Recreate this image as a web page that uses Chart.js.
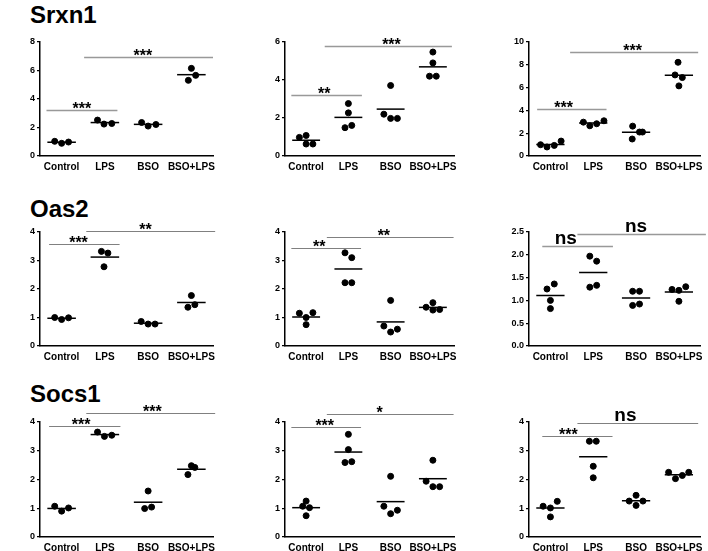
<!DOCTYPE html>
<html>
<head>
<meta charset="utf-8">
<script src="https://cdn.jsdelivr.net/npm/chart.js@4"></script>
<style>
  body { margin: 0; background: #fff; }
  #wrap { position: relative; width: 708px; height: 551px; overflow: hidden; }
  canvas { position: absolute; }
  .gene { position: absolute; left: 30px; font: bold 24px Arial, "Liberation Sans", sans-serif; line-height: 24px; color: #000; }
</style>
</head>
<body>
<div id="wrap">
  <div class="gene" style="top:3px">Srxn1</div>
  <div class="gene" style="top:197px">Oas2</div>
  <div class="gene" style="top:382px">Socs1</div>
</div>
<script>
const categories = ['Control', 'LPS', 'BSO', 'BSO+LPS'];

// values per group
const srxn1A = [[1.03, 0.89, 0.98], [2.52, 2.24, 2.28], [2.35, 2.10, 2.21], [6.15, 5.31, 5.66]];
const srxn1B = [[0.98, 1.08, 0.63, 0.63], [2.76, 2.27, 1.49, 1.61], [3.71, 2.20, 1.98, 1.98], [5.47, 4.90, 4.20, 4.20]];
const srxn1C = [[0.99, 0.79, 0.93, 1.31], [2.97, 2.65, 2.83, 3.09], [2.62, 1.49, 2.10, 2.10], [8.22, 7.11, 6.88, 6.15]];
const oas2A = [[1.00, 0.93, 0.99], [3.32, 3.26, 2.78], [0.86, 0.77, 0.77], [1.77, 1.36, 1.45]];
const oas2B = [[1.15, 1.17, 1.00, 0.75], [3.27, 3.10, 2.22, 2.22], [1.60, 0.70, 0.49, 0.59], [1.36, 1.52, 1.26, 1.28]];
const oas2C = [[1.25, 1.36, 1.00, 0.82], [1.97, 1.86, 1.29, 1.33], [1.20, 1.20, 0.89, 0.92], [1.24, 1.22, 1.30, 0.98]];
const socs1A = [[1.07, 0.90, 1.01], [3.65, 3.50, 3.54], [1.60, 0.99, 1.04], [2.17, 2.48, 2.42]];
const socs1B = [[1.25, 1.07, 1.02, 0.74], [3.57, 3.04, 2.59, 2.62], [2.11, 1.07, 0.81, 0.93], [2.67, 1.94, 1.75, 1.75]];
const socs1C = [[1.07, 1.01, 1.24, 0.70], [3.33, 3.33, 2.46, 2.06], [1.45, 1.25, 1.25, 1.10], [2.25, 2.03, 2.14, 2.25]];

// horizontal scatter of the dots inside each group
const jit3 = [[-0.16, 0, 0.16], [-0.17, -0.02, 0.16], [-0.15, 0, 0.18], [0, -0.07, 0.1]];
const jit3b = [[-0.16, 0, 0.16], [-0.08, 0.07, -0.02], [-0.16, 0, 0.16], [0, -0.08, 0.08]];
const jit3c = [[-0.16, 0, 0.16], [-0.17, -0.01, 0.16], [0, -0.08, 0.08], [-0.08, 0, 0.08]];
const jit4 = [[-0.16, 0, 0, 0.16], [0, 0, -0.08, 0.08], [0, -0.16, 0, 0.16], [0, 0, -0.08, 0.08]];
const jit4c = [[-0.23, -0.08, 0.09, 0.25], [-0.23, -0.08, 0.08, 0.25], [-0.08, -0.09, 0.08, 0.15], [-0.02, -0.09, 0.08, 0]];
const jit4o = [[-0.16, 0.16, 0, 0], [-0.08, 0.08, -0.08, 0.08], [0, -0.16, 0, 0.16], [-0.16, 0, 0, 0.16]];
const jit4p = [[-0.08, 0.09, 0, 0], [-0.08, 0.08, -0.08, 0.08], [-0.08, 0.08, -0.08, 0.08], [-0.16, 0, 0.16, 0]];
const jit4s = [[0, -0.08, 0.08, 0], [0, 0, -0.08, 0.08], [0, -0.16, 0, 0.16], [0, -0.16, 0, 0.16]];
const jit4t = [[-0.17, 0, 0.16, 0], [-0.09, 0.07, 0, 0], [0, -0.16, 0.16, 0], [-0.24, -0.08, 0.08, 0.23]];

// y axis ranges
const yMax = [8, 6, 10, 4, 4, 2.5, 4, 4, 4];
const yStep = [2, 2, 2, 1, 1, 0.5, 1, 1, 1];

// significance brackets: [x1, x2, y, label, labelX]
const sigSrxn1A = [[0.65, 2.29, 3.26, '***', 1.47], [1.52, 4.5, 6.95, '***', 2.88]];
const sigSrxn1B = [[0.65, 2.32, 3.23, '**', 1.43], [1.44, 4.45, 5.79, '***', 3.02]];
const sigSrxn1C = [[0.69, 2.31, 4.14, '***', 1.31], [1.46, 4.45, 9.10, '***', 2.92]];
const sigOas2A = [[0.71, 2.34, 3.59, '***', 1.39], [1.57, 4.55, 4.02, '**', 2.94]];
const sigOas2B = [[0.65, 2.30, 3.43, '**', 1.31], [1.49, 4.49, 3.84, '**', 2.84]];
const sigOas2C = [[0.81, 2.46, 2.19, 'ns', 1.36], [1.63, 4.63, 2.46, 'ns', 3.0]];
const sigSocs1A = [[0.71, 2.36, 3.85, '***', 1.45], [1.57, 4.55, 4.31, '***', 3.10]];
const sigSocs1B = [[0.65, 2.30, 3.84, '***', 1.44], [1.49, 4.49, 4.28, '*', 2.74]];
const sigSocs1C = [[0.81, 2.45, 3.52, '***', 1.42], [1.63, 4.45, 3.97, 'ns', 2.75]];

const panels = [
  { vals: srxn1A, jit: jit3, sig: sigSrxn1A },
  { vals: srxn1B, jit: jit4, sig: sigSrxn1B },
  { vals: srxn1C, jit: jit4c, sig: sigSrxn1C },
  { vals: oas2A, jit: jit3b, sig: sigOas2A },
  { vals: oas2B, jit: jit4o, sig: sigOas2B },
  { vals: oas2C, jit: jit4p, sig: sigOas2C },
  { vals: socs1A, jit: jit3c, sig: sigSocs1A },
  { vals: socs1B, jit: jit4s, sig: sigSocs1B },
  { vals: socs1C, jit: jit4t, sig: sigSocs1C }
];

// grid cells and plot boxes (relative to the cell)
const colX = [0, 236, 470];
const colW = [236, 234, 238];
const plotL = [40, 49, 59];
const plotR = [213, 218, 233];
const rowY = [0, 180, 360];
const rowH = [192, 192, 191];
const plotT = [42, 52, 62];
const plotB = [156, 166, 177];

const sigPlugin = {
  id: 'sig',
  afterDraw(chart, args, opts) {
    const c = chart.ctx, xs = chart.scales.x, ys = chart.scales.y;
    c.save();
    opts.brackets.forEach(b => {
      const y = Math.round(ys.getPixelForValue(b[2])) + 0.5;
      c.strokeStyle = opts.color;
      c.lineWidth = opts.width;
      c.beginPath();
      c.moveTo(xs.getPixelForValue(b[0]), y);
      c.lineTo(xs.getPixelForValue(b[1]), y);
      c.stroke();
      c.fillStyle = '#000';
      c.textAlign = 'center';
      c.textBaseline = 'alphabetic';
      if (b[3] === 'ns') {
        c.font = 'bold 19px "Liberation Sans Narrow", "Arial Narrow", Arial, sans-serif';
        c.fillText(b[3], xs.getPixelForValue(b[4]), y - 3);
      } else {
        c.font = 'bold 16px Arial, "Liberation Sans", sans-serif';
        c.fillText(b[3], xs.getPixelForValue(b[4]), y + 3);
      }
    });
    c.restore();
  }
};

const wrap = document.getElementById('wrap');
panels.forEach((p, i) => {
  const col = i % 3, row = Math.floor(i / 3);
  const cv = document.createElement('canvas');
  cv.width = colW[col];
  cv.height = rowH[row];
  cv.style.left = colX[col] + 'px';
  cv.style.top = rowY[row] + 'px';
  wrap.appendChild(cv);

  const pts = [];
  p.vals.forEach((g, gi) => g.forEach((v, k) => pts.push({ x: gi + 1 + p.jit[gi][k], y: v })));
  const datasets = [{
    data: pts,
    backgroundColor: '#000',
    borderColor: '#000',
    pointRadius: 3,
    pointHoverRadius: 3
  }];
  p.vals.forEach((g, gi) => {
    const m = g.reduce((a, b) => a + b, 0) / g.length;
    datasets.push({
      data: [{ x: gi + 1 - 0.33, y: m }, { x: gi + 1 + 0.33, y: m }],
      showLine: true,
      borderColor: '#000',
      borderWidth: 1.5,
      pointRadius: 0
    });
  });

  const light = row === 0 || i === 5;
  new Chart(cv.getContext('2d'), {
    type: 'scatter',
    data: { datasets: datasets },
    options: {
      responsive: false,
      animation: false,
      devicePixelRatio: 1,
      layout: { padding: { top: plotT[row], right: colW[col] - plotR[col], left: 0, bottom: 0 } },
      plugins: {
        legend: { display: false },
        tooltip: { enabled: false },
        sig: { brackets: p.sig, color: light ? '#999' : '#808080', width: light ? 1.6 : 1.2 }
      },
      scales: {
        x: {
          type: 'linear',
          min: 0.5,
          max: 4.5,
          afterBuildTicks: s => { s.ticks = [1, 2, 3, 4].map(v => ({ value: v })); },
          afterFit: s => { s.height = rowH[row] - plotB[row]; },
          grid: { display: false, drawTicks: false },
          border: { color: '#000', width: 1.5 },
          ticks: {
            color: '#000',
            padding: 5,
            maxRotation: 0,
            autoSkip: false,
            font: { family: 'Arial', size: 10, weight: 'bold' },
            callback: v => categories[v - 1]
          }
        },
        y: {
          min: 0,
          max: yMax[i],
          afterFit: s => { s.width = plotL[col]; },
          grid: { display: true, drawOnChartArea: false, drawTicks: true, tickLength: 3, color: '#000', lineWidth: 1.2 },
          border: { color: '#000', width: 1.5 },
          ticks: {
            stepSize: yStep[i],
            color: '#000',
            padding: 2,
            font: { family: 'Arial', size: 9, weight: 'bold' },
            callback: v => yStep[i] < 1 ? v.toFixed(1) : v
          }
        }
      }
    },
    plugins: [sigPlugin]
  });
});
</script>
</body>
</html>
